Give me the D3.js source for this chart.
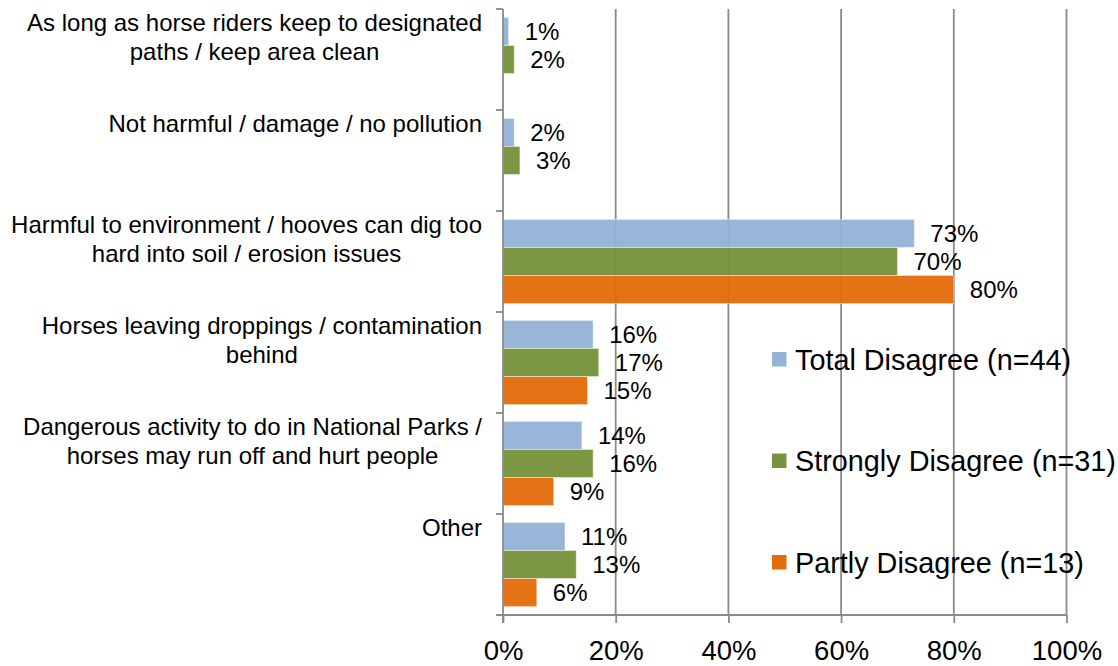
<!DOCTYPE html>
<html>
<head>
<meta charset="utf-8">
<script src="https://cdn.jsdelivr.net/npm/d3@7"></script>
<style>
  html, body { margin: 0; padding: 0; background: #fff; }
  svg { display: block; font-family: "Liberation Sans", Arial, sans-serif; }
</style>
</head>
<body>
<svg id="chart" width="1118" height="666"></svg>
<script>
// Reasons given by respondents who disagree with horse riding in National Parks
const categories = [
  "As long as horse riders keep to designated paths / keep area clean",
  "Not harmful / damage / no pollution",
  "Harmful to environment / hooves can dig too hard into soil / erosion issues",
  "Horses leaving droppings / contamination behind",
  "Dangerous activity to do in National Parks / horses may run off and hurt people",
  "Other"
];
const seriesNames = ["Total Disagree (n=44)", "Strongly Disagree (n=31)", "Partly Disagree (n=13)"];
const totalDisagree    = [1, 2, 73, 16, 14, 11];
const stronglyDisagree = [2, 3, 70, 17, 16, 13];
const partlyDisagree   = [null, null, 80, 15, 9, 6];
const xTicks = [0, 20, 40, 60, 80, 100];
const seriesColors = ["#95B3D7", "#77933C", "#E46C0A"];

const seriesValues = [totalDisagree, stronglyDisagree, partlyDisagree];

const svg = d3.select("#chart");
const plot = { left: 503, right: 1066.5, top: 9, bottom: 615 };
const gridColor = "#8a8a8a";

const x = d3.scaleLinear().domain([0, 100]).range([plot.left, plot.right]);
const y0 = d3.scaleBand().domain(categories).range([plot.top, plot.bottom]);
const y1 = d3.scaleBand().domain(seriesNames).range([0, y0.bandwidth()]).paddingOuter(0.3);

// vertical gridlines
svg.append("g")
  .selectAll("line")
  .data(xTicks.filter(t => t > 0))
  .join("line")
  .attr("x1", d => x(d)).attr("x2", d => x(d))
  .attr("y1", plot.top).attr("y2", plot.bottom)
  .attr("stroke", gridColor).attr("stroke-width", 1.8);

// bars
const groups = svg.append("g")
  .selectAll("g")
  .data(categories)
  .join("g")
  .attr("transform", d => `translate(0,${y0(d)})`);

groups.each(function (cat, ci) {
  const g = d3.select(this);
  const rows = seriesNames
    .map((s, si) => ({ s, si, v: seriesValues[si][ci] }))
    .filter(r => r.v != null);

  g.selectAll("rect")
    .data(rows)
    .join("rect")
    .attr("x", x(0))
    .attr("y", r => y1(r.s))
    .attr("width", r => x(r.v) - x(0))
    .attr("height", y1.bandwidth())
    .attr("fill", r => seriesColors[r.si])
    .attr("fill-opacity", 0.96)
    .attr("stroke", "rgba(255,255,255,0.45)")
    .attr("stroke-width", 1);

  g.selectAll("text")
    .data(rows)
    .join("text")
    .attr("x", r => x(r.v) + 16)
    .attr("y", r => y1(r.s) + y1.bandwidth() / 2)
    .attr("dy", "0.36em")
    .attr("font-size", 24)
    .attr("fill", "#000")
    .text(r => r.v + "%");
});

// category labels: wrapped, block right-aligned, lines centred within block
const labelRight = 482;
const labelFont = 24;
const maxLabelWidth = 476;
const measure = svg.append("text").attr("font-size", labelFont).attr("visibility", "hidden");
function textWidth(s) { measure.text(s); return measure.node().getComputedTextLength(); }
function wrap(s) {
  const words = s.split(" ");
  const lines = [];
  let line = "";
  words.forEach(w => {
    const trial = line ? line + " " + w : w;
    if (line && textWidth(trial) > maxLabelWidth) { lines.push(line); line = w; }
    else line = trial;
  });
  if (line) lines.push(line);
  return lines;
}

const labelG = svg.append("g");
categories.forEach(cat => {
  const lines = wrap(cat);
  const w = d3.max(lines, textWidth);
  const cx = labelRight - w / 2;
  const t = labelG.append("text")
    .attr("text-anchor", "middle")
    .attr("font-size", labelFont)
    .attr("fill", "#000");
  lines.forEach((ln, i) => {
    t.append("tspan")
      .attr("x", cx)
      .attr("y", y0(cat) + 22 + i * 28.5)
      .text(ln);
  });
});
measure.remove();

// left (category) axis
const yAxis = svg.append("g");
yAxis.append("line")
  .attr("x1", plot.left).attr("x2", plot.left)
  .attr("y1", plot.top).attr("y2", plot.bottom + 8)
  .attr("stroke", gridColor).attr("stroke-width", 1.8);
yAxis.selectAll("line.tick")
  .data(categories.map(c => y0(c)).concat([plot.bottom]))
  .join("line")
  .attr("class", "tick")
  .attr("x1", plot.left - 7).attr("x2", plot.left)
  .attr("y1", d => d).attr("y2", d => d)
  .attr("stroke", gridColor).attr("stroke-width", 1.8);

// bottom (value) axis
const xAxis = svg.append("g")
  .attr("transform", `translate(0,${plot.bottom})`)
  .call(d3.axisBottom(x).tickValues(xTicks).tickFormat(d => d + "%").tickSize(8).tickSizeOuter(0));
xAxis.select(".domain")
  .attr("d", `M${plot.left - 7},0H${plot.right}`)
  .attr("stroke", gridColor).attr("stroke-width", 1.8);
xAxis.selectAll(".tick line").attr("stroke", gridColor).attr("stroke-width", 1.8);
xAxis.selectAll(".tick text")
  .attr("font-family", "\"Liberation Sans\", Arial, sans-serif")
  .attr("font-size", 27.5)
  .attr("fill", "#000")
  .attr("y", 45)
  .attr("dy", 0);

// legend
const legend = svg.append("g");
const legendItems = legend.selectAll("g")
  .data(seriesNames)
  .join("g")
  .attr("transform", (d, i) => `translate(772,${352 + i * 101.5})`);
legendItems.append("rect")
  .attr("width", 14.5).attr("height", 14.5)
  .attr("fill", (d, i) => seriesColors[i]);
legendItems.append("text")
  .attr("x", 23)
  .attr("y", 17.5)
  .attr("font-size", 28.8)
  .attr("fill", "#000")
  .text(d => d);
</script>
</body>
</html>
